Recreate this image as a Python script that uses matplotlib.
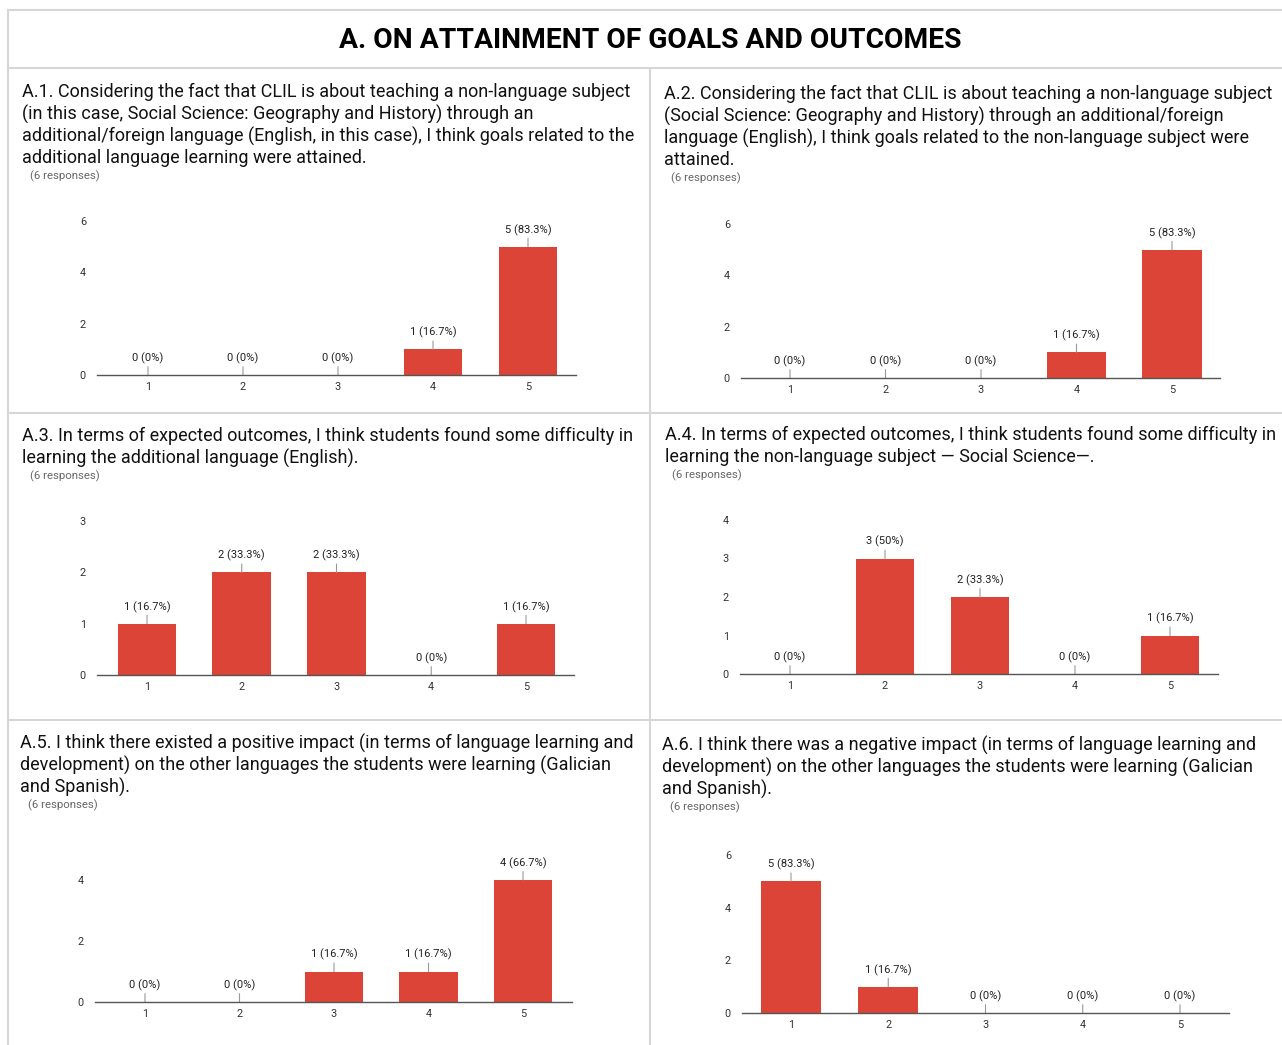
import matplotlib.pyplot as plt
from matplotlib.lines import Line2D

plt.rcParams['font.family'] = ['Roboto', 'DejaVu Sans']

W, H = 1282, 1045

title = "A. ON ATTAINMENT OF GOALS AND OUTCOMES"
categories = [1, 2, 3, 4, 5]

q1 = ["A.1. Considering the fact that CLIL is about teaching a non-language subject",
      "(in this case, Social Science: Geography and History) through an",
      "additional/foreign language (English, in this case), I think goals related to the",
      "additional language learning were attained."]
q2 = ["A.2. Considering the fact that CLIL is about teaching a non-language subject",
      "(Social Science: Geography and History) through an additional/foreign",
      "language (English), I think goals related to the non-language subject were",
      "attained."]
q3 = ["A.3. In terms of expected outcomes, I think students found some difficulty in",
      "learning the additional language (English)."]
q4 = ["A.4. In terms of expected outcomes, I think students found some difficulty in",
      "learning the non-language subject \u2014 Social Science\u2014."]
q5 = ["A.5. I think there existed a positive impact (in terms of language learning and",
      "development) on the other languages the students were learning (Galician",
      "and Spanish)."]
q6 = ["A.6. I think there was a negative impact (in terms of language learning and",
      "development) on the other languages the students were learning (Galician",
      "and Spanish)."]

counts1 = [0, 0, 0, 1, 5]
counts2 = [0, 0, 0, 1, 5]
counts3 = [1, 2, 2, 0, 1]
counts4 = [0, 3, 2, 0, 1]
counts5 = [0, 0, 1, 1, 4]
counts6 = [5, 1, 0, 0, 0]
n_responses = 6

yticks1 = [0, 2, 4, 6]
yticks2 = [0, 2, 4, 6]
yticks3 = [0, 1, 2, 3]
yticks4 = [0, 1, 2, 3, 4]
yticks5 = [0, 2, 4]
yticks6 = [0, 2, 4, 6]

BAR = '#dc4437'
BORDER = '#d6d6d6'

# pixel layout per panel: text x, first line y, responses x, axis left/right, x of cat 1 / cat 5, baseline y, top tick y
panels = [
    (q1, counts1, yticks1, 22, 92, 30, 97, 576, 148, 528, 375, 221),
    (q2, counts2, yticks2, 664, 94, 671, 741, 1220, 790, 1172, 378, 224),
    (q3, counts3, yticks3, 22, 436, 30, 97, 574, 147, 526, 675, 521),
    (q4, counts4, yticks4, 665, 435, 672, 740, 1218, 790, 1170, 674, 520),
    (q5, counts5, yticks5, 20, 743, 28, 95, 572, 145, 523, 1002, 880),
    (q6, counts6, yticks6, 662, 745, 670, 742, 1229, 791, 1180, 1013, 855),
]

fig = plt.figure(figsize=(W / 100, H / 100), dpi=100)


def fx(x):
    return x / W


def fy(y):
    return 1 - y / H


def hline(y, x0, x1):
    fig.add_artist(Line2D([fx(x0), fx(x1)], [fy(y), fy(y)], color=BORDER, lw=1.5))


def vline(x, y0, y1):
    fig.add_artist(Line2D([fx(x), fx(x)], [fy(y0), fy(y1)], color=BORDER, lw=1.5))


# frame lines
hline(10, 8, 1282)
hline(68, 8, 1282)
hline(413, 8, 1282)
hline(720, 8, 1282)
vline(8, 10, 1045)
vline(650, 68, 1045)

fig.text(fx(650), fy(40), title, ha='center', va='center',
         fontsize=20.3, fontweight='bold', color='black')

for lines, counts, yticks, tx, ty, rx, axl, axr, x1, x5, base, top in panels:
    for i, line in enumerate(lines):
        fig.text(fx(tx), fy(ty + 22 * i), line, ha='left', va='center',
                 fontsize=13.0, color='#111111')
    fig.text(fx(rx), fy(ty + 22 * (len(lines) - 1) + 18), "(%d responses)" % n_responses,
             ha='left', va='center', fontsize=8.2, color='#666666')

    ax = fig.add_axes([fx(axl), fy(base), fx(axr) - fx(axl), fy(top) - fy(base)])
    s = (x5 - x1) / 4
    ax.set_xlim(1 - (x1 - axl) / s, 5 + (axr - x5) / s)
    ax.set_ylim(0, yticks[-1])
    ax.bar(categories, counts, width=0.62, color=BAR, zorder=2)
    for c, v in zip(categories, counts):
        pct = round(v / n_responses * 100, 1)
        ax.annotate("%d (%s%%)" % (v, format(pct, 'g')), xy=(c, v), xytext=(0, 8),
                    textcoords='offset points', ha='center', va='bottom',
                    fontsize=8, color='#222222', annotation_clip=False,
                    arrowprops=dict(arrowstyle='-', color='#999999', lw=0.8,
                                    shrinkA=0, shrinkB=0, relpos=(0.5, 0)))
    ax.set_xticks(categories)
    ax.set_yticks(yticks)
    ax.tick_params(axis='both', length=0, labelsize=7.8, labelcolor='#333333')
    ax.tick_params(axis='x', pad=5)
    ax.tick_params(axis='y', pad=8)
    for side in ['top', 'right', 'left']:
        ax.spines[side].set_visible(False)
    ax.spines['bottom'].set_color('#555555')
    ax.spines['bottom'].set_linewidth(1)
    ax.spines['bottom'].set_zorder(3)
    ax.patch.set_alpha(0)

fig.savefig('out.png', dpi=100)
